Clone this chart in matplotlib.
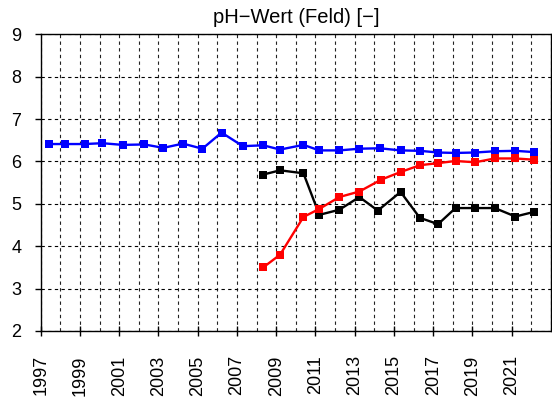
import matplotlib
matplotlib.use("Agg")
import matplotlib.pyplot as plt
from matplotlib.ticker import MultipleLocator, FixedLocator

plt.rcParams['font.family'] = ['Liberation Sans', 'DejaVu Sans']

title = "pH\u2212Wert (Feld) [\u2212]"

blue_x = [1997.42, 1998.24, 1999.24, 2000.14, 2001.17, 2002.29, 2003.25, 2004.25,
          2005.24, 2006.22, 2007.30, 2008.34, 2009.20, 2010.39, 2011.20, 2012.22,
          2013.24, 2014.27, 2015.34, 2016.32, 2017.25, 2018.14, 2019.14, 2020.14,
          2021.19, 2022.15]
blue_y = [6.41, 6.41, 6.41, 6.43, 6.39, 6.40, 6.32, 6.42, 6.30, 6.68, 6.36, 6.38,
          6.28, 6.39, 6.26, 6.26, 6.30, 6.31, 6.26, 6.25, 6.21, 6.20, 6.21, 6.24,
          6.25, 6.22]

red_x = [2008.34, 2009.20, 2010.39, 2011.20, 2012.22, 2013.24, 2014.35, 2015.34,
         2016.32, 2017.25, 2018.14, 2019.14, 2020.14, 2021.19, 2022.15]
red_y = [3.50, 3.80, 4.69, 4.88, 5.16, 5.29, 5.57, 5.75, 5.91, 5.96, 6.01, 5.98,
         6.07, 6.07, 6.04]

black_x = [2008.34, 2009.20, 2010.39, 2011.20, 2012.22, 2013.24, 2014.18, 2015.34,
           2016.32, 2017.25, 2018.14, 2019.14, 2020.14, 2021.19, 2022.15]
black_y = [5.69, 5.79, 5.72, 4.74, 4.86, 5.16, 4.84, 5.28, 4.67, 4.52, 4.90, 4.90,
           4.90, 4.70, 4.81]

xticks = list(range(1997, 2022, 2))
yticks = list(range(2, 10))

fig = plt.figure(figsize=(5.52, 4.01), dpi=100)
ax = fig.add_axes([0.0737, 0.1746, 0.9243, 0.74])

style = dict(marker='s', markersize=6, linewidth=1.7, markeredgewidth=0)
ax.plot(blue_x, blue_y, color='#0000ff', **style, zorder=3)
ax.plot(red_x, red_y, color='#ff0000', **style, zorder=4)
ax.plot(black_x, black_y, color='#000000', **style, zorder=3)

ax.set_xlim(1997, 2023)
ax.set_ylim(2, 9)
ax.xaxis.set_major_locator(FixedLocator(xticks))
ax.xaxis.set_minor_locator(MultipleLocator(1))
ax.set_yticks(yticks)
ax.set_xticklabels([str(t) for t in xticks], rotation=90)

ax.grid(True, which='both', axis='x', color='#222222', linestyle=(0, (3, 3)), linewidth=0.8)
ax.grid(True, which='major', axis='y', color='black', linestyle=(0, (3, 3)), linewidth=0.8)
ax.set_axisbelow(True)

ax.tick_params(axis='x', which='major', direction='inout', length=7, width=1, labelsize=13, pad=14)
ax.tick_params(axis='x', which='minor', length=0)
ax.tick_params(axis='y', which='major', direction='out', length=4, width=1, labelsize=13, pad=10)
for s in ax.spines.values():
    s.set_linewidth(1.0)

ax.set_title(title, fontsize=14.5, pad=8)

fig.savefig("out.png", dpi=100)
